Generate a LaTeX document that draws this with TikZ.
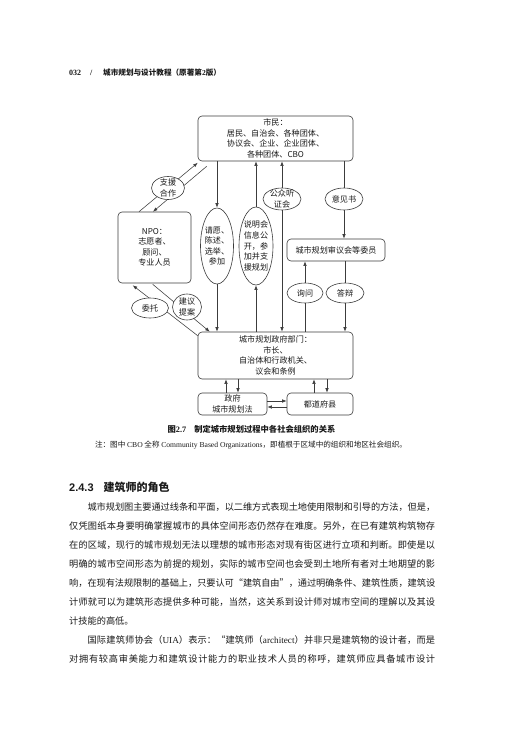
\documentclass[tikz,border=0pt]{standalone}
\usepackage{fontspec}
\setmainfont{Noto Sans CJK SC}
\newfontfamily\latser{Liberation Serif}
\newfontfamily\latsan{Liberation Sans}
\usetikzlibrary{arrows.meta,shapes.geometric}
\definecolor{lc}{HTML}{3C3C3C}
\definecolor{tc}{HTML}{1A1A1A}
\newcommand\dg{\fontsize{8.1pt}{10.4pt}\selectfont}
\newcommand\bodyfont{\fontsize{9.2pt}{12pt}\selectfont}
\newcommand\jline[1]{\parbox{366pt}{\bodyfont\XeTeXlinebreaklocale "zh"\XeTeXlinebreakskip=0pt plus 1pt minus 0.35pt\relax\parfillskip=0pt\relax\tolerance=9999\relax\noindent #1}}
\begin{document}
\begin{tikzpicture}[x=1pt,y=-1pt,
 box/.style={draw=lc,line width=0.6pt,rounded corners=4pt,fill=white,inner sep=0pt,align=center,font=\dg,text=tc},
 ell/.style={draw=lc,line width=0.6pt,ellipse,fill=white,inner sep=0pt},
 etxt/.style={inner sep=0pt,align=center,font=\dg,text=tc},
 arr/.style={draw=lc,line width=0.55pt,-{Latex[length=4.5pt,width=3.4pt]}},
 ln/.style={draw=lc,line width=0.55pt},
 txt/.style={inner sep=0pt,text=tc}]
\useasboundingbox (0,0) rectangle (525,750);
\fill[white] (0,0) rectangle (525,750);

% header
\node[txt,anchor=west] (h1) at (69,73) {\fontsize{8pt}{10pt}\selectfont\latser\bfseries 032};
\node[txt,anchor=west] (h2) at (90,73) {\fontsize{8pt}{10pt}\selectfont\latser\bfseries /};
\node[txt,anchor=west] (h3) at (103,73) {\fontsize{7.6pt}{10pt}\selectfont\bfseries 城市规划与设计教程（原著第{\latser 2}版）};

% boxes
\node[box,minimum width=155pt,minimum height=45pt] (cit) at (275.5,138.5) {市民：\\居民、自治会、各种团体、\\协议会、企业、企业团体、\\各种团体、CBO};
\node[box,minimum width=155pt,minimum height=47pt] (gov) at (275.5,355.5) {城市规划政府部门：\\市长、\\自治体和行政机关、\\议会和条例};
\node[box,minimum width=73pt,minimum height=71pt] (npo) at (154.5,247.5) {NPO：\\志愿者、\\顾问、\\专业人员};
\node[box,minimum width=98pt,minimum height=22pt] (shen) at (336,250) {城市规划审议会等委员};
\node[box,minimum width=69pt,minimum height=22pt] (zf) at (232.5,404) {政府\\城市规划法};
\node[box,minimum width=66pt,minimum height=22pt] (ddfx) at (320,404) {都道府县};

% diagonal connectors NPO
\coordinate (a1) at ([xshift=-15.5pt]npo.north);
\coordinate (a2) at ([yshift=-1.5pt]cit.south west);
\draw[arr] (a1) -- (a2);
\coordinate (b1) at ([xshift=9pt,yshift=-5pt]cit.south west);
\coordinate (b2) at ([xshift=-1.5pt]npo.north);
\draw[arr] (b1) -- (b2);
\coordinate (c1) at ([yshift=-4pt]gov.north west);
\coordinate (c2) at ([xshift=15pt,yshift=-2pt]npo.south west);
\draw[arr] (c1) -- (c2);
\coordinate (d1) at ([xshift=35pt,yshift=-1pt]npo.south west);
\coordinate (d2) at ([xshift=12pt]gov.north west);
\draw[arr] (d1) -- (d2);

% ellipses
\node[ell,minimum width=33pt,minimum height=23pt] (e0) at (168,188) {};
\node[etxt] (e0t) at (e0) {支援\\合作};
\node[ell,minimum width=33pt,minimum height=76pt] (e1) at (217,246) {};
\node[etxt] (e1t) at (e1) {请愿、\\陈述、\\选举、\\参加};
\node[ell,minimum width=34pt,minimum height=78pt] (e2) at (256,246) {};
\node[etxt,font=\fontsize{8.1pt}{10.7pt}\selectfont] (e2t) at (e2) {说明会\\信息公\\开，参\\加并支\\援规划};
\node[ell,minimum width=38pt,minimum height=22pt] (e3) at (282,199) {};
\node[etxt] (e3t) at (e3) {公众听\\证会};
\node[ell,minimum width=38pt,minimum height=22pt] (e4) at (344,199) {};
\node[etxt] (e4t) at (e4) {意见书};
\node[ell,minimum width=36pt,minimum height=20pt] (e5) at (305,293) {};
\node[etxt] (e5t) at (e5) {询问};
\node[ell,minimum width=38pt,minimum height=20pt] (e6) at (345,293) {};
\node[etxt] (e6t) at (e6) {答辩};
\node[ell,minimum width=37pt,minimum height=20pt] (e7) at (150,308) {};
\node[etxt] (e7t) at (e7) {委托};
\node[ell,minimum width=29pt,minimum height=26pt] (e8) at (187,307) {};
\node[etxt] (e8t) at (e8) {建议\\提案};

% vertical connectors
\draw[arr] (e1.north |- cit.south) -- (e1.north);
\draw[arr] (e1.south) -- (e1.south |- gov.north);
\draw[arr] (e2.south |- gov.north) -- (e2.south);
\draw[arr] (e2.north) -- (e2.north |- cit.south);
\draw[arr] (e3.north) -- (e3.north |- cit.south);
\draw[arr] (e3.south) -- (e3.south |- gov.north);
\draw[ln] (e4.north |- cit.south) -- (e4.north);
\draw[arr] (e4.south) -- (e4.south |- shen.north);
\draw[ln] (e5.south |- gov.north) -- (e5.south);
\draw[arr] (e5.north) -- (e5.north |- shen.south);
\draw[ln] (e6.north |- shen.south) -- (e6.north);
\draw[arr] (e6.south) -- (e6.south |- gov.north);

% bottom connectors
\coordinate (z1) at ([xshift=5.5pt]zf.north);
\coordinate (z2) at ([xshift=-6.5pt]zf.north);
\coordinate (z3) at ([xshift=7pt]ddfx.north);
\coordinate (z4) at ([xshift=-6pt]ddfx.north);
\draw[arr] (z1 |- gov.south) -- (z1);
\draw[arr] (z2) -- (z2 |- gov.south);
\draw[arr] (z3 |- gov.south) -- (z3);
\draw[arr] (z4) -- (z4 |- gov.south);
\coordinate (k1) at ([yshift=3pt]zf.east);
\coordinate (k2) at ([yshift=-3pt]ddfx.west);
\draw[arr] (k1) -- (k1 -| ddfx.west);
\draw[arr] (k2) -- (k2 -| zf.east);

% caption
\node[txt] (cap) at (251.5,429) {\fontsize{8.3pt}{10pt}\selectfont\bfseries 图{\latser 2.7}\hspace{8pt}制定城市规划过程中各社会组织的关系};
\node[txt] (note) at (251,445) {\fontsize{7.6pt}{10pt}\selectfont 注：图中 {\latser CBO} 全称 {\latser Community Based Organizations}，即植根于区域中的组织和地区社会组织。};

% heading
\node[txt,anchor=west] (sec) at (69,487) {\fontsize{11pt}{13pt}\selectfont\bfseries{\latsan 2.4.3}\hspace{10pt}建筑师的角色};

% body
\node[txt,anchor=west] (p1) at (69,507) {\jline{\hspace*{18.4pt}城市规划图主要通过线条和平面，以二维方式表现土地使用限制和引导的方法，但是，}};
\node[txt,anchor=west] (p2) at (69,526) {\jline{仅凭图纸本身要明确掌握城市的具体空间形态仍然存在难度。另外，在已有建筑构筑物存}};
\node[txt,anchor=west] (p3) at (69,545) {\jline{在的区域，现行的城市规划无法以理想的城市形态对现有街区进行立项和判断。即使是以}};
\node[txt,anchor=west] (p4) at (69,564) {\jline{明确的城市空间形态为前提的规划，实际的城市空间也会受到土地所有者对土地期望的影}};
\node[txt,anchor=west] (p5) at (69,583) {\jline{响，在现有法规限制的基础上，只要认可“建筑自由”，通过明确条件、建筑性质，建筑设}};
\node[txt,anchor=west] (p6) at (69,602) {\jline{计师就可以为建筑形态提供多种可能，当然，这关系到设计师对城市空间的理解以及其设}};
\node[txt,anchor=west] (p7) at (69,621) {\bodyfont 计技能的高低。};
\node[txt,anchor=west] (p8) at (69,640) {\jline{\hspace*{18.4pt}国际建筑师协会（{\latser UIA}）表示：“建筑师（{\latser architect}）并非只是建筑物的设计者，而是}};
\node[txt,anchor=west] (p9) at (69,659) {\jline{对拥有较高审美能力和建筑设计能力的职业技术人员的称呼，建筑师应具备城市设计}};
\end{tikzpicture}
\end{document}
